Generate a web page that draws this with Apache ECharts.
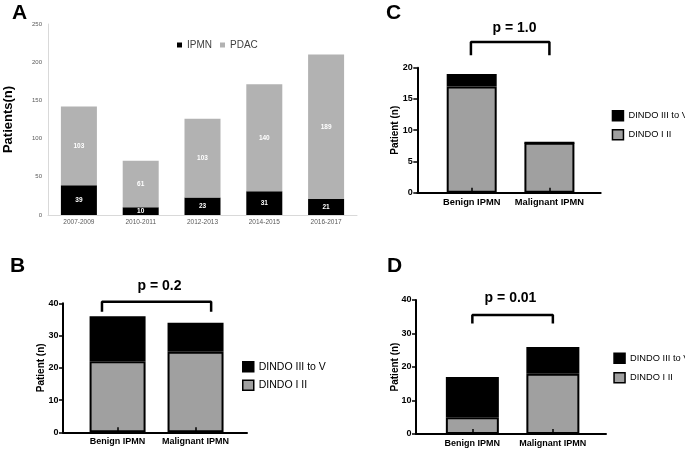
<!DOCTYPE html>
<html>
<head>
<meta charset="utf-8">
<script src="https://cdn.jsdelivr.net/npm/echarts@6/dist/echarts.min.js"></script>
<style>
html,body{margin:0;padding:0;background:#fff;}
#c{width:685px;height:452px;}
</style>
</head>
<body>
<div id="c"></div>
<script>
// ---- Panel A data ----
const aCategories = ['2007-2009', '2010-2011', '2012-2013', '2014-2015', '2016-2017'];
const aIPMN = [39, 10, 23, 31, 21];
const aPDAC = [103, 61, 103, 140, 189];

// ---- Panels B, C, D (shared categories) ----
const groupCategories = ['Benign IPMN', 'Malignant IPMN'];
const groupPositions = [1, 2];
const legendNames = ['DINDO III to V', 'DINDO I II'];

const bDindoI = [22, 25];
const bDindoIII = [14, 9];
const bPValue = 'p = 0.2';
const bBracketX = [0.8, 2.2];
const bBracketY = [37.4, 40.5];

const cDindoI = [17, 8];
const cDindoIII = [2, 0];
const cPValue = 'p = 1.0';
const cBracketX = [0.99, 2.0];
const cBracketY = [22.0, 24.1];

const dDindoI = [5, 18];
const dDindoIII = [12, 8];
const dPValue = 'p = 0.01';
const dBracketX = [1, 2];
const dBracketY = [33.0, 35.5];

const FONT = 'Liberation Sans, Arial, Helvetica, sans-serif';
const GREY = '#a0a0a0';

// value first so that the stack is applied on the count dimension
function pairs(vals) { return vals.map((v, i) => [v, groupPositions[i]]); }
function bracket(xs, ys) {
  return [[xs[0], ys[0]], [xs[0], ys[1]], [xs[1], ys[1]], [xs[1], ys[0]]];
}

function groupXAxis(gridIndex, fontSize) {
  return {
    type: 'value', gridIndex: gridIndex, min: 0.3, max: 2.66, z: 5,
    axisLine: { show: true, onZero: false, lineStyle: { color: '#000', width: 2 } },
    axisTick: { show: true, customValues: groupPositions, inside: true, length: 5, lineStyle: { color: '#000', width: 1.5 } },
    axisLabel: {
      customValues: groupPositions,
      formatter: v => groupCategories[Math.round(v) - 1],
      color: '#000', fontWeight: 'bold', fontSize: fontSize, fontFamily: FONT, margin: 5
    },
    splitLine: { show: false }
  };
}
function groupYAxis(gridIndex, max, interval, nameGap) {
  return {
    type: 'value', gridIndex: gridIndex, min: 0, max: max, interval: interval,
    name: 'Patient (n)', nameLocation: 'middle', nameGap: nameGap, nameMoveOverlap: false,
    nameTextStyle: { color: '#000', fontWeight: 'bold', fontSize: 10, fontFamily: FONT },
    axisLine: { show: true, lineStyle: { color: '#000', width: 2 } },
    axisTick: { show: true, inside: false, length: 4, lineStyle: { color: '#000', width: 1.5 } },
    axisLabel: { color: '#000', fontWeight: 'bold', fontSize: 9, fontFamily: FONT, margin: 4.5 },
    splitLine: { show: false }
  };
}
function groupSeries(idx, stack, dI, dIII, barWidth, bx, by) {
  return [
    {
      type: 'bar', name: 'DINDO I II', xAxisIndex: idx, yAxisIndex: idx, stack: stack,
      barWidth: barWidth, data: pairs(dI), encode: { x: 1, y: 0 },
      itemStyle: { color: GREY, borderColor: '#000', borderWidth: 2 }
    },
    {
      type: 'bar', name: 'DINDO III to V', xAxisIndex: idx, yAxisIndex: idx, stack: stack,
      barWidth: barWidth, data: pairs(dIII), encode: { x: 1, y: 0 },
      itemStyle: { color: '#000', borderColor: '#000', borderWidth: 2 }
    },
    {
      type: 'line', xAxisIndex: idx, yAxisIndex: idx, data: bracket(bx, by),
      symbol: 'none', clip: false, silent: true, z: 6,
      lineStyle: { color: '#000', width: 2.5 }
    }
  ];
}
function groupLegend(left, top, fontSize, gap) {
  return {
    data: legendNames, orient: 'vertical', left: left, top: top,
    itemWidth: 11, itemHeight: 10, itemGap: gap,
    icon: 'rect',
    itemStyle: { borderColor: '#000', borderWidth: 1.5 },
    textStyle: { color: '#000', fontSize: fontSize, fontFamily: FONT },
    selectedMode: false
  };
}
function txt(x, y, text, font) {
  return {
    type: 'text', x: x, y: y, silent: true,
    style: { text: text, font: font, fill: '#000', align: 'center', verticalAlign: 'middle', textAlign: 'center', textVerticalAlign: 'middle' }
  };
}

const chart = echarts.init(document.getElementById('c'), null, { renderer: 'canvas' });
const option = {
  animation: false,
  backgroundColor: '#fff',
  textStyle: { fontFamily: FONT },
  grid: [
    { left: 48, top: 24, width: 309, height: 191 },
    { left: 63, top: 303.3, width: 184, height: 129 },
    { left: 417.3, top: 67.7, width: 183.4, height: 125 },
    { left: 416, top: 300, width: 190, height: 134 }
  ],
  xAxis: [
    {
      type: 'category', gridIndex: 0, data: aCategories, boundaryGap: true,
      axisLine: { show: true, lineStyle: { color: '#d9d9d9', width: 1 } },
      axisTick: { show: false },
      axisLabel: { color: '#595959', fontSize: 6.5, margin: 4 }
    },
    groupXAxis(1, 9),
    groupXAxis(2, 9.3),
    groupXAxis(3, 9)
  ],
  yAxis: [
    {
      type: 'value', gridIndex: 0, min: 0, max: 250, interval: 50,
      name: 'Patients(n)', nameLocation: 'middle', nameGap: 33, nameMoveOverlap: false,
      nameTextStyle: { color: '#000', fontWeight: 'bold', fontSize: 13, fontFamily: FONT },
      axisLine: { show: true, lineStyle: { color: '#d9d9d9', width: 1 } },
      axisTick: { show: false },
      axisLabel: { color: '#595959', fontSize: 6, margin: 6 },
      splitLine: { show: false }
    },
    groupYAxis(1, 40, 10, 17),
    groupYAxis(2, 20, 5, 17),
    groupYAxis(3, 40, 10, 16)
  ],
  legend: [
    {
      data: ['IPMN', 'PDAC'], left: 172, top: 35, itemWidth: 5, itemHeight: 5, itemGap: 8,
      icon: 'rect', textStyle: { color: '#404040', fontSize: 10, fontFamily: FONT }, selectedMode: false
    },
    groupLegend(237, 356, 10.5, 7),
    groupLegend(606.7, 105, 9.3, 7.5),
    groupLegend(608.3, 347.5, 9.3, 8)
  ],
  series: [
    {
      type: 'bar', name: 'IPMN', xAxisIndex: 0, yAxisIndex: 0, stack: 'a', barWidth: 36, data: aIPMN,
      itemStyle: { color: '#000' },
      label: { show: true, position: 'inside', color: '#fff', fontSize: 6.5, fontWeight: 'bold' }
    },
    {
      type: 'bar', name: 'PDAC', xAxisIndex: 0, yAxisIndex: 0, stack: 'a', barWidth: 36, data: aPDAC,
      itemStyle: { color: '#b2b2b2' },
      label: { show: true, position: 'inside', color: '#fff', fontSize: 6.5, fontWeight: 'bold' }
    }
  ]
    .concat(groupSeries(1, 'b', bDindoI, bDindoIII, 56, bBracketX, bBracketY))
    .concat(groupSeries(2, 'c', cDindoI, cDindoIII, 50, cBracketX, cBracketY))
    .concat(groupSeries(3, 'd', dDindoI, dDindoIII, 53, dBracketX, dBracketY)),
  graphic: [
    txt(19.5, 13, 'A', 'bold 21px ' + FONT),
    txt(17.5, 266, 'B', 'bold 21px ' + FONT),
    txt(393.5, 13, 'C', 'bold 21px ' + FONT),
    txt(394.5, 266, 'D', 'bold 21px ' + FONT),
    txt(159.5, 286, bPValue, 'bold 14px ' + FONT),
    txt(514.5, 28, cPValue, 'bold 14px ' + FONT),
    txt(510.5, 298.5, dPValue, 'bold 14px ' + FONT)
  ]
};
chart.setOption(option);
</script>
</body>
</html>
